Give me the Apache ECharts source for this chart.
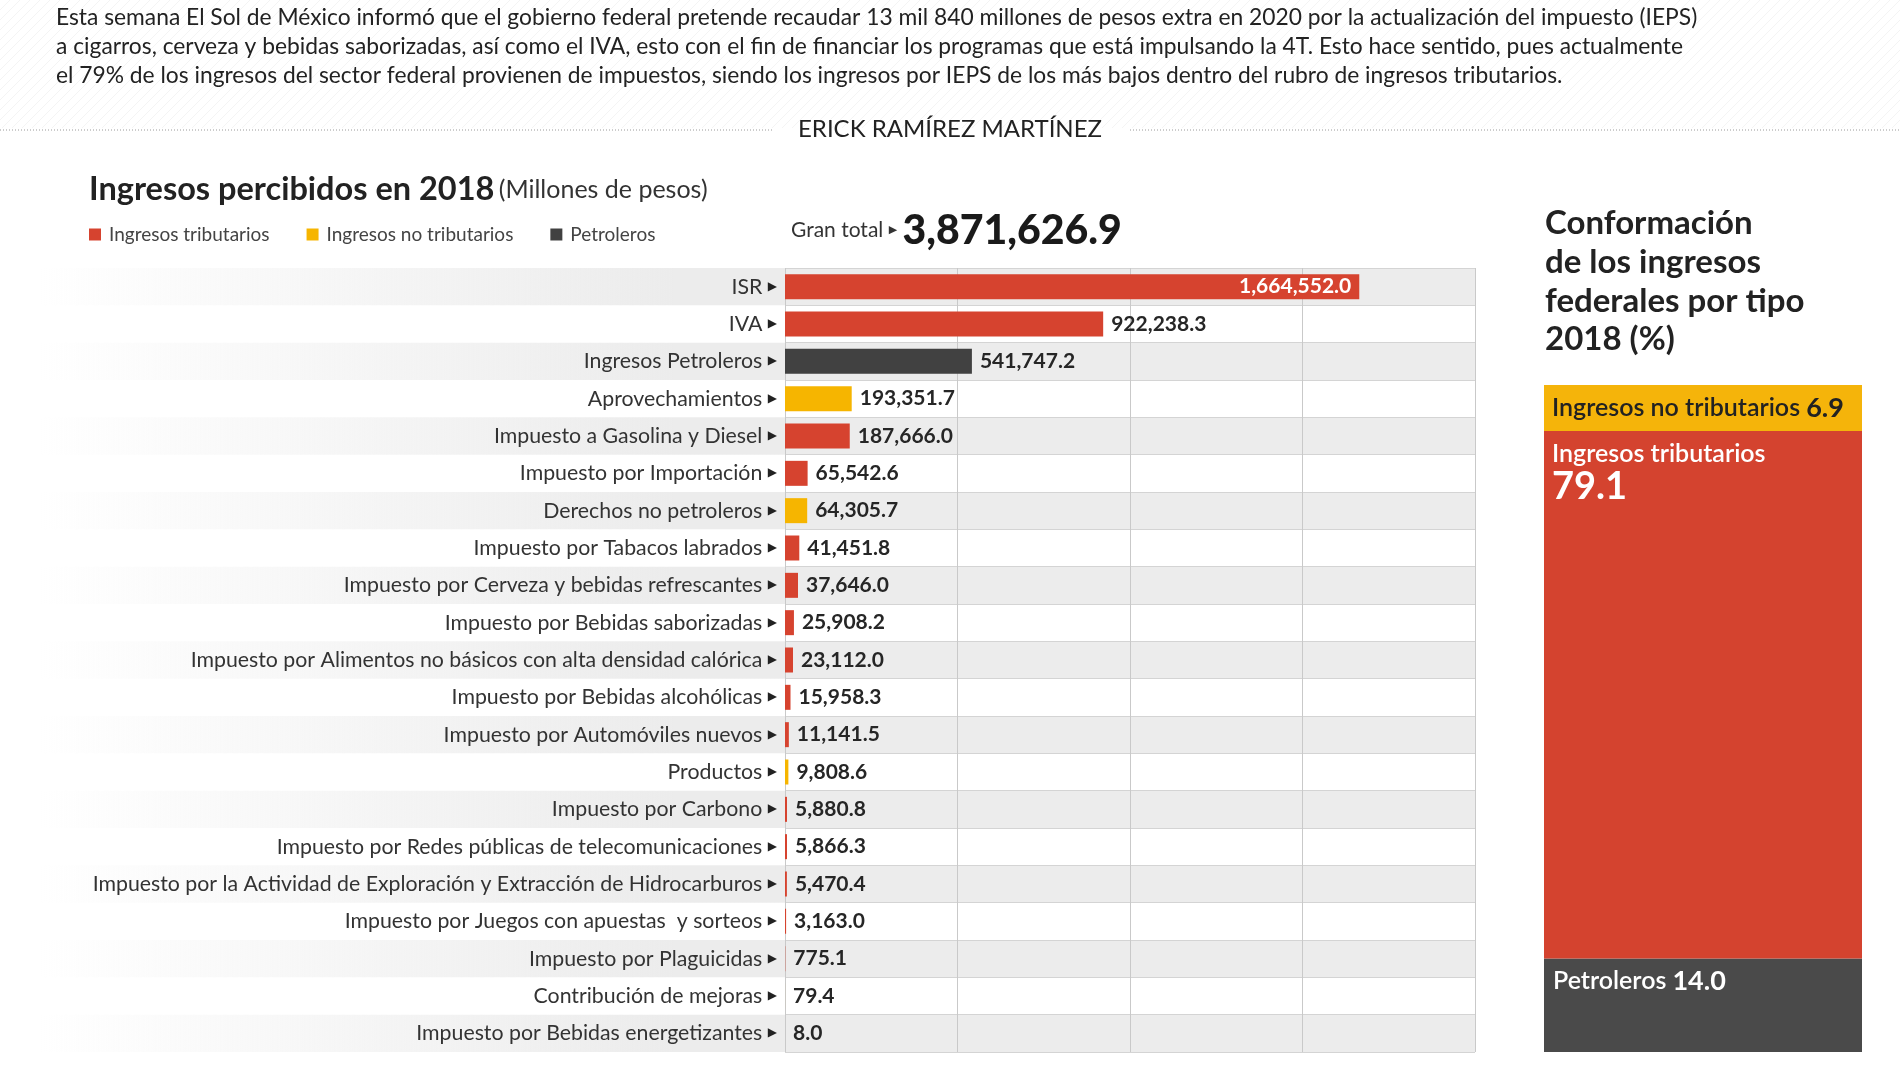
<!DOCTYPE html>
<html>
<head>
<meta charset="utf-8">
<script src="https://cdn.jsdelivr.net/npm/echarts@6/dist/echarts.min.js"></script>
<style>html,body{margin:0;padding:0;background:#fff}#c{width:1900px;height:1068px}</style>
</head>
<body>
<div id="c"></div>
<script>
const categories = [
  'ISR', 'IVA', 'Ingresos Petroleros', 'Aprovechamientos', 'Impuesto a Gasolina y Diesel',
  'Impuesto por Importación', 'Derechos no petroleros', 'Impuesto por Tabacos labrados',
  'Impuesto por Cerveza y bebidas refrescantes', 'Impuesto por Bebidas saborizadas',
  'Impuesto por Alimentos no básicos con alta densidad calórica', 'Impuesto por Bebidas alcohólicas',
  'Impuesto por Automóviles nuevos', 'Productos', 'Impuesto por Carbono',
  'Impuesto por Redes públicas de telecomunicaciones',
  'Impuesto por la Actividad de Exploración y Extracción de Hidrocarburos',
  'Impuesto por Juegos con apuestas  y sorteos', 'Impuesto por Plaguicidas',
  'Contribución de mejoras', 'Impuesto por Bebidas energetizantes'
];
const values = [1664552.0, 922238.3, 541747.2, 193351.7, 187666.0, 65542.6, 64305.7, 41451.8,
  37646.0, 25908.2, 23112.0, 15958.3, 11141.5, 9808.6, 5880.8, 5866.3, 5470.4, 3163.0, 775.1, 79.4, 8.0];
const types = ['T','T','P','NT','T','T','NT','T','T','T','T','T','T','NT','T','T','T','T','T','NT','T'];
const typeKeys = ['T', 'NT', 'P'];
const typeNames = ['Ingresos tributarios', 'Ingresos no tributarios', 'Petroleros'];
const grandTotal = '3,871,626.9';
const xTicks = [0, 500000, 1000000, 1500000, 2000000];

const shareNames = ['Petroleros', 'Ingresos tributarios', 'Ingresos no tributarios'];
const shareValues = [14.0, 79.1, 6.9];

const introText = 'Esta semana El Sol de México informó que el gobierno federal pretende recaudar 13 mil 840 millones de pesos extra en 2020 por la actualización del impuesto (IEPS)\n' +
  'a cigarros, cerveza y bebidas saborizadas, así como el IVA, esto con el fin de financiar los programas que está impulsando la 4T. Esto hace sentido, pues actualmente\n' +
  'el 79% de los ingresos del sector federal provienen de impuestos, siendo los ingresos por IEPS de los más bajos dentro del rubro de ingresos tributarios.';

const FONT = 'Lato';
const colorsByType = { T: '#d6432f', NT: '#f6b500', P: '#414141' };
const shareColors = ['#4a4a4a', '#d4432f', '#f5b40a'];
const fmt = new Intl.NumberFormat('en-US', { minimumFractionDigits: 1, maximumFractionDigits: 1 });

// faint diagonal hatch for header
const pat = document.createElement('canvas');
pat.width = 10; pat.height = 10;
const pc = pat.getContext('2d');
pc.strokeStyle = 'rgba(0,0,0,0.045)';
pc.lineWidth = 1;
pc.beginPath(); pc.moveTo(0, 10); pc.lineTo(10, 0); pc.stroke();

const chart = echarts.init(document.getElementById('c'));

const barSeries = typeKeys.map((t, k) => ({
  name: typeNames[k],
  type: 'bar',
  xAxisIndex: 0, yAxisIndex: 0,
  barWidth: 25,
  barGap: '-100%',
  itemStyle: { color: colorsByType[t] },
  label: {
    show: true, position: 'right', distance: 8,
    formatter: p => fmt.format(p.value),
    fontFamily: FONT, fontSize: 21, fontWeight: 'bold', color: '#262626'
  },
  data: values.map((v, i) => {
    if (types[i] !== t) return '-';
    if (i === 0) return { value: v, label: { position: 'insideRight', color: '#fff', distance: 8 } };
    return v;
  })
}));

const shareSeries = shareNames.map((n, i) => {
  let label;
  if (i === 0) {
    label = { show: true, position: 'insideTopLeft', distance: 9,
      formatter: p => '{a|' + n + '}  {b|' + p.value.toFixed(1) + '}',
      rich: { a: { fontFamily: FONT, fontSize: 25, color: '#fff', fontWeight: 600 },
              b: { fontFamily: FONT, fontSize: 27, color: '#fff', fontWeight: 'bold' } } };
  } else if (i === 1) {
    label = { show: true, position: 'insideTopLeft', distance: 8,
      formatter: p => '{a|' + n + '}\n{c|' + p.value.toFixed(1) + '}',
      rich: { a: { fontFamily: FONT, fontSize: 25, color: '#fff', fontWeight: 600, lineHeight: 29 },
              c: { fontFamily: FONT, fontSize: 38, color: '#fff', fontWeight: 'bold', lineHeight: 38 } } };
  } else {
    label = { show: true, position: 'insideLeft', distance: 8,
      formatter: p => '{a|' + n + '}  {b|' + p.value.toFixed(1) + '}',
      rich: { a: { fontFamily: FONT, fontSize: 25, color: '#222', fontWeight: 600 },
              b: { fontFamily: FONT, fontSize: 27, color: '#222', fontWeight: 'bold' } } };
  }
  return {
    name: n + ' (%)', type: 'bar', stack: 'pct',
    xAxisIndex: 2, yAxisIndex: 2,
    barWidth: '100%',
    itemStyle: { color: shareColors[i] },
    label,
    data: [shareValues[i]]
  };
});

const option = {
  animation: false,
  textStyle: { fontFamily: FONT },
  graphic: [
    { type: 'rect', z: -10, shape: { x: 0, y: 0, width: 1900, height: 128 },
      style: { fill: { image: pat, repeat: 'repeat' } } },
    { type: 'line', shape: { x1: 0, y1: 130, x2: 772, y2: 130 }, style: { stroke: '#9a9a9a', lineWidth: 1, lineDash: [1, 2] } },
    { type: 'line', shape: { x1: 1130, y1: 130, x2: 1900, y2: 130 }, style: { stroke: '#9a9a9a', lineWidth: 1, lineDash: [1, 2] } }
  ],
  title: [
    { text: introText, left: 56, top: 3, padding: 0,
      textStyle: { fontFamily: FONT, fontSize: 22.8, lineHeight: 29, fontWeight: 'normal', color: '#222' } },
    { text: 'ERICK RAMÍREZ MARTÍNEZ', left: 'center', top: 117, padding: 0,
      textStyle: { fontFamily: FONT, fontSize: 24, fontWeight: 'normal', color: '#222' } },
    { text: '{a|Ingresos percibidos en 2018} {b|(Millones de pesos)}', left: 89, top: 173, padding: 0,
      textStyle: { rich: {
        a: { fontFamily: FONT, fontSize: 32.5, fontWeight: 'bold', color: '#222' },
        b: { fontFamily: FONT, fontSize: 25, fontWeight: 'normal', color: '#333' } } } },
    { text: '{a|Gran total }{t|▶}{a| }{b|' + grandTotal + '}', left: 791, top: 210, padding: 0,
      textStyle: { rich: {
        a: { fontFamily: FONT, fontSize: 21, fontWeight: 'normal', color: '#333' },
        t: { fontFamily: 'DejaVu Sans', fontSize: 11, fontWeight: 'normal', color: '#333' },
        b: { fontFamily: FONT, fontSize: 41, fontWeight: 900, color: '#1a1a1a' } } } },
    { text: 'Conformación\nde los ingresos\nfederales por tipo\n2018 (%)', left: 1545, top: 204, padding: 0,
      textStyle: { fontFamily: FONT, fontSize: 33, fontWeight: 'bold', lineHeight: 38.8, color: '#222' } }
  ],
  legend: {
    data: typeNames, left: 89, top: 225, padding: 0,
    icon: 'rect', itemWidth: 12, itemHeight: 12, itemGap: 37,
    textStyle: { fontFamily: FONT, fontSize: 19, color: '#444', padding: [0, 0, 0, 3] }
  },
  grid: [
    { left: 785, top: 268, width: 690, height: 784 },
    { left: 40, top: 268, width: 745, height: 784 },
    { left: 1544, top: 385, width: 318, height: 667 }
  ],
  xAxis: [
    { gridIndex: 0, type: 'value', min: xTicks[0], max: xTicks[xTicks.length - 1], interval: xTicks[1] - xTicks[0],
      axisLabel: { show: false }, axisLine: { show: false }, axisTick: { show: false },
      splitLine: { show: true, lineStyle: { color: '#c9c9c9', width: 1 } } },
    { gridIndex: 1, type: 'value', show: false, min: 0, max: 1 },
    { gridIndex: 2, type: 'category', data: ['2018'], show: false }
  ],
  yAxis: [
    { gridIndex: 0, type: 'category', data: categories, inverse: true,
      axisLine: { show: false }, axisTick: { show: false },
      splitLine: { show: true, lineStyle: { color: '#d4d4d4' } },
      splitArea: { show: true, areaStyle: { color: ['#ececec', '#ffffff'] } },
      axisLabel: { margin: 8, formatter: v => '{n|' + v + ' }{t|▶}',
        rich: { n: { fontFamily: FONT, fontSize: 21.3, color: '#333' },
                t: { fontFamily: 'DejaVu Sans', fontSize: 12, color: '#222' } } } },
    { gridIndex: 1, type: 'category', data: categories, inverse: true, z: 0,
      axisLine: { show: false }, axisTick: { show: false }, axisLabel: { show: false },
      splitLine: { show: false },
      splitArea: { show: true, areaStyle: { color: [
        new echarts.graphic.LinearGradient(0, 0, 1, 0, [
          { offset: 0, color: 'rgba(236,236,236,0)' },
          { offset: 0.85, color: 'rgba(236,236,236,1)' },
          { offset: 1, color: 'rgba(236,236,236,1)' }]),
        'rgba(255,255,255,0)'] } } },
    { gridIndex: 2, type: 'value', min: 0, max: 100, show: false }
  ],
  series: barSeries.concat(shareSeries)
};
chart.setOption(option);
</script>
</body>
</html>
